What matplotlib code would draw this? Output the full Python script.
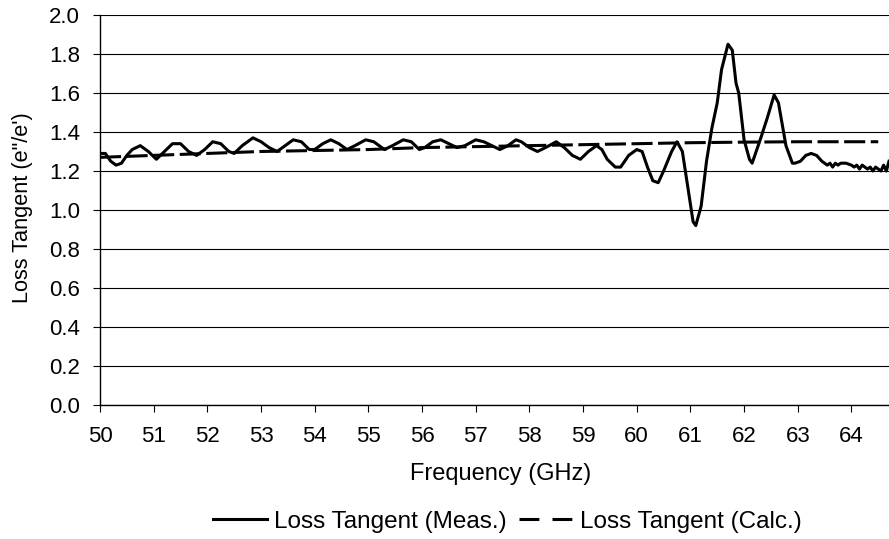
import matplotlib
matplotlib.use("Agg")
import matplotlib.pyplot as plt

plt.rcParams['font.family'] = ['Liberation Sans', 'DejaVu Sans']

# Measured loss tangent vs frequency (GHz)
freq_meas = [
    50.00, 50.10, 50.20, 50.30, 50.40, 50.50, 50.60, 50.75, 50.90, 51.05,
    51.20, 51.35, 51.50, 51.65, 51.80, 51.95, 52.10, 52.25, 52.40, 52.50,
    52.65, 52.85, 53.00, 53.15, 53.30, 53.45, 53.60, 53.75, 53.90, 54.00,
    54.15, 54.30, 54.45, 54.60, 54.75, 54.95, 55.10, 55.30, 55.45, 55.65,
    55.80, 55.95, 56.05, 56.20, 56.35, 56.50, 56.65, 56.80, 57.00, 57.15,
    57.30, 57.45, 57.60, 57.75, 57.85, 58.00, 58.15, 58.30, 58.50, 58.65,
    58.80, 58.95, 59.10, 59.25, 59.35, 59.45, 59.60, 59.70, 59.85, 60.00,
    60.10, 60.20, 60.30, 60.40, 60.50, 60.65, 60.75, 60.85, 60.95, 61.05,
    61.10, 61.20, 61.30, 61.40, 61.50, 61.58, 61.70, 61.78, 61.85, 61.90,
    62.00, 62.10, 62.15, 62.30, 62.43, 62.56, 62.64, 62.71, 62.78, 62.90,
    62.95, 63.05, 63.15, 63.25, 63.35, 63.45, 63.55, 63.60, 63.65, 63.70,
    63.75, 63.80, 63.90, 64.00, 64.05, 64.10, 64.15, 64.20, 64.30, 64.35,
    64.40, 64.45, 64.50, 64.55, 64.60, 64.65, 64.70,
]
loss_meas = [
    1.29, 1.29, 1.25, 1.23, 1.24, 1.28, 1.31, 1.33, 1.30, 1.26,
    1.30, 1.34, 1.34, 1.30, 1.28, 1.31, 1.35, 1.34, 1.30, 1.29,
    1.33, 1.37, 1.35, 1.32, 1.30, 1.33, 1.36, 1.35, 1.31, 1.31,
    1.34, 1.36, 1.34, 1.31, 1.33, 1.36, 1.35, 1.31, 1.33, 1.36,
    1.35, 1.31, 1.32, 1.35, 1.36, 1.34, 1.32, 1.33, 1.36, 1.35,
    1.33, 1.31, 1.33, 1.36, 1.35, 1.32, 1.30, 1.32, 1.35, 1.32,
    1.28, 1.26, 1.30, 1.33, 1.31, 1.26, 1.22, 1.22, 1.28, 1.31,
    1.30, 1.22, 1.15, 1.14, 1.20, 1.30, 1.35, 1.30, 1.12, 0.94,
    0.92, 1.02, 1.25, 1.42, 1.55, 1.72, 1.85, 1.82, 1.65, 1.60,
    1.36, 1.26, 1.24, 1.36, 1.47, 1.59, 1.55, 1.44, 1.33, 1.24,
    1.24, 1.25, 1.28, 1.29, 1.28, 1.25, 1.23, 1.24, 1.22, 1.24,
    1.23, 1.24, 1.24, 1.23, 1.22, 1.23, 1.21, 1.23, 1.21, 1.22,
    1.20, 1.22, 1.21, 1.20, 1.23, 1.20, 1.25,
]

# Calculated loss tangent
freq_calc = [50.0, 51.0, 52.0, 53.0, 54.0, 55.0, 56.0, 57.0, 58.0,
             59.0, 60.0, 61.0, 62.0, 63.0, 64.0, 64.5]
loss_calc = [1.27, 1.28, 1.29, 1.30, 1.305, 1.31, 1.32, 1.325, 1.33,
             1.335, 1.34, 1.345, 1.348, 1.35, 1.35, 1.35]

x_ticks = list(range(50, 65))
y_ticks = [0.0, 0.2, 0.4, 0.6, 0.8, 1.0, 1.2, 1.4, 1.6, 1.8, 2.0]

fig = plt.figure(figsize=(8.89, 5.39), dpi=100)
ax = fig.add_axes([0.1125, 0.2486, 0.8875, 0.7236])

ax.plot(freq_meas, loss_meas, color='black', lw=2.2,
        label='Loss Tangent (Meas.)')
ax.plot(freq_calc, loss_calc, color='black', lw=2.2, dashes=(6.9, 1.8),
        label='Loss Tangent (Calc.)')

ax.set_xlim(50, 64.7)
ax.set_ylim(0, 2.0)
ax.set_xticks(x_ticks)
ax.set_xticklabels([str(v) for v in x_ticks])
ax.set_yticks(y_ticks)
ax.set_yticklabels([f"{v:.1f}" for v in y_ticks])

ax.grid(axis='y', color='black', lw=0.8)
ax.set_axisbelow(True)
for side in ('top', 'right'):
    ax.spines[side].set_visible(False)
ax.spines['left'].set_linewidth(1.0)
ax.spines['bottom'].set_linewidth(1.0)
ax.tick_params(direction='out', length=5, width=0.8, labelsize=16)
ax.tick_params(axis='y', pad=9.4)
ax.tick_params(axis='x', pad=10)

# Axis titles placed in figure coordinates
fig.text(501 / 889, 1 - 474 / 539, 'Frequency (GHz)', fontsize=17,
         ha='center', va='center')
fig.text(23 / 889, 1 - 208 / 539, "Loss Tangent (e\"/e')", fontsize=15.7,
         ha='center', va='center', rotation=90)

leg = fig.legend(loc='center', bbox_to_anchor=(0.571, 0.032), ncol=2,
                 frameon=False, fontsize=17.5, handlelength=2.2,
                 handletextpad=0.3, columnspacing=0.53)
leg.get_lines()[1].set_dashes((6.5, 4.3))

fig.savefig('out.png', dpi=100)
